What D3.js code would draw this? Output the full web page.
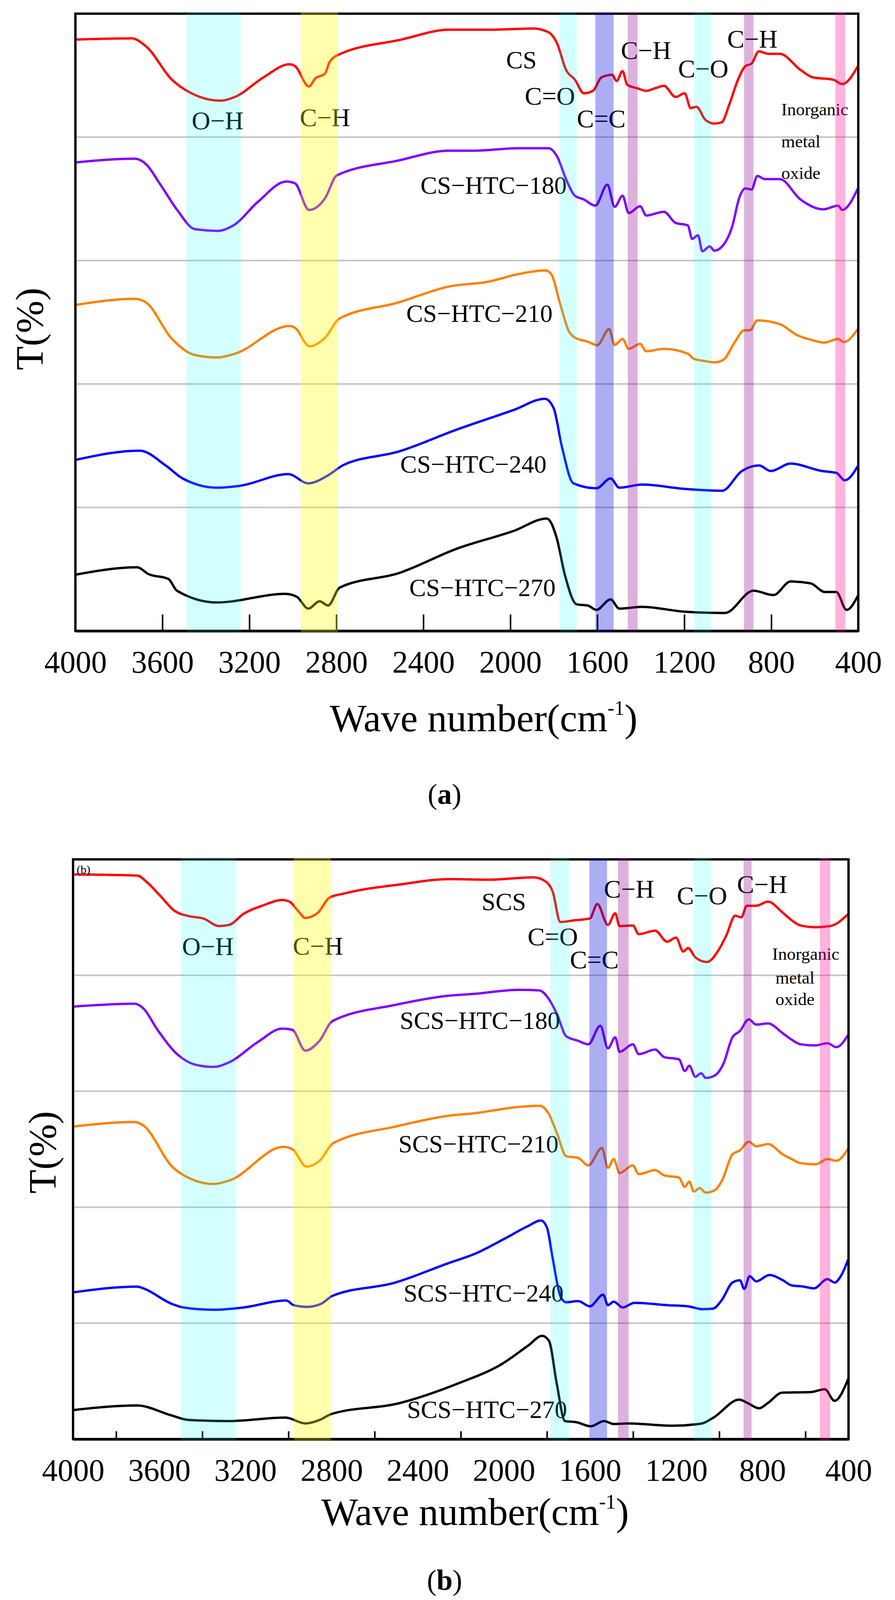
<!DOCTYPE html>
<html>
<head>
<meta charset="utf-8">
<script src="https://cdn.jsdelivr.net/npm/d3@7"></script>
<style>
  html, body { margin: 0; padding: 0; background: #fff; overflow: hidden; }
  svg { display: block; }
  svg text { font-family: "Liberation Serif", "Times New Roman", serif; fill: #000; }
</style>
</head>
<body>
<svg id="fig" width="2291" height="4160"></svg>
<script>
// ---- data: [wave number, T (offset, arbitrary %)] ----
var CS = [[4000,95.8],[3741,96.0],[3675,94.7],[3556,89.3],[3477,87.3],[3332,85.9],[3267,86.5],[3134,89.7],[3016,91.8],[2990,91.5],[2926,88.2],[2897,89.5],[2852,90.3],[2832,92.1],[2793,93.3],[2502,95.8],[2281,97.4],[2098,97.4],[1895,97.6],[1825,97.0],[1784,95.1],[1744,90.9],[1703,89.3],[1662,87.1],[1620,87.5],[1580,89.7],[1532,90.1],[1511,89.1],[1484,90.7],[1463,88.5],[1415,87.9],[1375,87.5],[1335,87.9],[1294,88.3],[1240,86.5],[1198,87.1],[1171,84.7],[1144,84.9],[1103,82.8],[1062,82.2],[1028,82.4],[994,85.2],[953,89.3],[919,91.5],[891,91.9],[857,93.9],[815,93.5],[761,93.5],[666,90.9],[611,89.7],[515,89.3],[474,88.6],[400,91.6]];
var CS_HTC_180 = [[4000,75.9],[3727,76.5],[3675,75.6],[3609,72.3],[3530,68.1],[3451,65.1],[3346,64.8],[3273,65.7],[3161,69.5],[3030,72.8],[2990,72.5],[2926,68.2],[2852,70.1],[2798,73.8],[2516,76.2],[2281,77.8],[2166,77.8],[1964,78.2],[1825,78.2],[1784,76.8],[1744,73.2],[1703,70.5],[1662,69.9],[1609,68.9],[1554,72.3],[1520,68.7],[1484,70.5],[1456,67.7],[1403,68.8],[1375,67.3],[1294,67.9],[1240,66.1],[1184,65.7],[1164,63.5],[1137,64.1],[1117,61.5],[1083,62.3],[1062,61.6],[1021,62.5],[980,65.5],[946,70.3],[919,71.7],[891,71.5],[864,73.7],[830,73.2],[761,73.2],[666,69.9],[561,68.3],[493,68.9],[474,68.2],[400,71.8]];
var CS_HTC_210 = [[4000,52.8],[3727,53.8],[3675,53.2],[3556,47.3],[3451,44.7],[3346,44.3],[3267,44.9],[3016,49.4],[2990,49.1],[2924,46.1],[2852,47.5],[2786,50.6],[2516,53.2],[2281,55.8],[2098,56.6],[1964,57.8],[1839,58.4],[1812,57.8],[1771,53.0],[1730,48.5],[1703,47.5],[1648,46.9],[1600,46.3],[1546,48.9],[1520,46.3],[1484,47.3],[1456,45.7],[1403,46.5],[1375,45.3],[1294,45.7],[1184,44.9],[1157,44.1],[1103,43.7],[1062,43.5],[1021,43.9],[966,46.9],[925,48.7],[898,48.7],[864,50.3],[761,49.7],[680,47.9],[611,47.1],[557,46.7],[493,47.3],[467,46.8],[400,49.0]];
var CS_HTC_240 = [[4000,27.7],[3704,29.2],[3585,26.8],[3507,24.7],[3349,23.2],[3244,23.5],[3021,25.4],[2929,23.9],[2838,25.2],[2771,26.8],[2509,29.1],[2247,32.6],[1984,35.8],[1841,37.6],[1801,36.1],[1762,29.7],[1710,23.9],[1604,23.1],[1539,24.7],[1499,23.2],[1394,23.7],[1198,23.0],[1027,22.7],[935,25.9],[856,26.8],[803,25.9],[711,27.1],[567,25.9],[501,25.6],[462,24.4],[400,26.8]];
var CS_HTC_270 = [[4000,9.1],[3716,10.3],[3664,9.2],[3572,8.4],[3533,6.5],[3349,4.6],[3034,6.0],[2981,5.5],[2929,3.6],[2877,4.8],[2838,4.1],[2785,7.0],[2509,9.4],[2247,13.3],[1984,16.2],[1832,18.2],[1788,15.2],[1748,8.9],[1695,4.3],[1643,4.1],[1604,3.4],[1539,5.1],[1499,3.6],[1394,3.9],[1198,3.1],[1013,2.9],[882,6.5],[790,5.8],[711,8.0],[619,7.7],[554,6.3],[501,6.3],[454,3.4],[400,5.8]];

var SCS = [[4000,97.4],[3701,97.2],[3661,96.2],[3595,93.7],[3528,91.1],[3461,90.2],[3395,89.8],[3322,88.5],[3275,88.7],[3209,90.6],[3115,92.1],[3029,93.0],[2995,92.7],[2955,91.1],[2922,89.9],[2863,90.8],[2810,93.4],[2743,94.1],[2477,95.7],[2253,96.6],[2069,96.5],[1862,96.9],[1807,96.2],[1773,94.4],[1738,89.2],[1670,89.5],[1601,89.8],[1566,92.3],[1517,88.7],[1483,90.7],[1463,88.5],[1401,88.6],[1374,87.1],[1298,87.7],[1242,85.8],[1201,86.5],[1167,84.1],[1145,84.7],[1111,83.1],[1057,82.3],[1001,84.5],[967,86.9],[926,90.3],[898,90.0],[872,92.0],[829,92.0],[774,92.7],[705,90.8],[664,89.5],[623,88.6],[554,88.3],[485,88.5],[400,90.6]];
var SCS_HTC_180 = [[4000,74.6],[3714,75.1],[3674,74.3],[3608,70.6],[3514,66.3],[3434,64.6],[3348,64.2],[3275,65.0],[3142,68.5],[3029,70.8],[2982,70.6],[2922,67.0],[2856,68.7],[2796,72.1],[2504,74.9],[2253,76.5],[2138,76.8],[1931,77.5],[1835,77.4],[1793,76.0],[1752,73.2],[1711,69.5],[1655,68.7],[1608,68.1],[1552,71.3],[1517,67.4],[1483,69.3],[1463,66.8],[1401,68.1],[1374,66.4],[1298,67.2],[1256,65.9],[1187,65.5],[1160,63.5],[1139,64.4],[1111,62.5],[1084,63.1],[1063,62.3],[1022,62.7],[980,64.8],[939,69.3],[904,70.4],[863,72.4],[829,71.5],[774,71.7],[705,70.0],[664,68.9],[623,68.1],[554,67.9],[498,68.3],[457,67.6],[400,69.8]];
var SCS_HTC_210 = [[4000,53.9],[3714,54.7],[3674,54.1],[3540,47.0],[3434,44.6],[3348,44.0],[3275,44.6],[3023,50.4],[2982,50.0],[2916,47.0],[2856,48.0],[2790,51.1],[2504,53.9],[2253,55.8],[2138,56.2],[1931,57.3],[1835,57.5],[1793,56.2],[1752,52.6],[1711,48.8],[1655,48.5],[1608,47.2],[1545,50.2],[1517,46.8],[1490,48.3],[1463,45.9],[1401,47.2],[1374,45.7],[1298,46.4],[1256,45.5],[1187,45.1],[1160,43.5],[1139,44.4],[1118,42.7],[1090,43.3],[1063,42.5],[1022,42.9],[987,44.6],[939,49.1],[904,49.8],[863,51.3],[829,50.5],[774,50.9],[705,49.1],[664,48.3],[623,47.6],[554,47.4],[498,48.3],[457,48.0],[400,50.2]];
var SCS_HTC_240 = [[4000,25.3],[3701,26.3],[3674,26.0],[3540,23.3],[3488,22.7],[3348,22.3],[3209,22.7],[3010,23.9],[2976,23.1],[2916,22.8],[2850,23.3],[2796,24.7],[2504,27.0],[2253,30.4],[2138,31.9],[2000,34.5],[1890,36.7],[1828,37.7],[1800,36.5],[1773,31.1],[1738,24.7],[1711,23.6],[1655,23.8],[1601,22.9],[1539,24.9],[1517,23.1],[1490,23.7],[1448,22.7],[1394,23.5],[1242,23.1],[1145,22.9],[1077,22.4],[1029,22.5],[988,24.0],[939,27.0],[904,27.4],[884,25.9],[859,28.1],[829,27.2],[767,28.3],[705,27.4],[664,26.5],[609,26.3],[560,26.0],[498,27.6],[464,27.0],[436,28.1],[400,31.1]];
var SCS_HTC_270 = [[4000,5.0],[3703,5.8],[3545,4.1],[3465,3.3],[3279,3.1],[3014,3.7],[2921,2.7],[2855,3.3],[2802,4.3],[2484,6.2],[2219,9.5],[2007,13.0],[1888,16.1],[1822,17.8],[1790,16.9],[1756,9.9],[1716,3.1],[1662,2.9],[1597,2.2],[1535,3.1],[1490,2.6],[1424,2.7],[1212,2.3],[1080,2.7],[1027,3.7],[907,6.8],[868,6.2],[815,5.3],[775,6.2],[708,8.0],[576,8.1],[510,8.6],[465,6.6],[400,10.5]];

// shaded absorption bands [from, to, kind]
var bandsA = [[3490,3240,'cyan'],[2964,2793,'yellow'],[1774,1694,'cyan'],[1609,1525,'blue'],[1460,1415,'purple'],[1155,1075,'cyan'],[925,882,'purple'],[505,460,'pink']];
var bandsB = [[3499,3242,'cyan'],[2975,2803,'yellow'],[1784,1697,'cyan'],[1603,1521,'blue'],[1470,1421,'purple'],[1118,1036,'cyan'],[887,850,'purple'],[533,485,'pink']];

// series names, in drawing order
var namesA = ['CS', 'CS\u2212HTC\u2212180', 'CS\u2212HTC\u2212210', 'CS\u2212HTC\u2212240', 'CS\u2212HTC\u2212270'];
var namesB = ['SCS', 'SCS\u2212HTC\u2212180', 'SCS\u2212HTC\u2212210', 'SCS\u2212HTC\u2212240', 'SCS\u2212HTC\u2212270'];
// label anchors [wave number, T]
var nameSpotsA = [[1949,92.5],[2077,72.2],[2142,51.4],[2170,27.0],[2128,7.0]];
var nameSpotsB = [[2000,92.7],[2111,72.2],[2118,50.9],[2094,25.2],[2078,5.1]];

// bond labels [text, wave number, T]
var bondsA = [['O\u2212H',3346,82.7],['C\u2212H',2852,83.2],['C=O',1818,86.7],['C=C',1582,83.0],['C\u2212H',1376,94.1],['C\u2212O',1113,91.1],['C\u2212H',887,95.9]];
var bondsB = [['O\u2212H',3374,85.0],['C\u2212H',2863,85.1],['C=O',1773,86.7],['C=C',1580,82.7],['C\u2212H',1419,94.9],['C\u2212O',1080,93.8],['C\u2212H',801,95.7]];
var oxideA = [['Inorganic',754,84.5],['metal',754,79.3],['oxide',754,74.2]];
var oxideB = [['Inorganic',754,83.7],['metal',739,79.6],['oxide',739,75.9]];

var tickLabels = [4000,3600,3200,2800,2400,2000,1600,1200,800,400];
var ticksA = [3600,3200,2800,2400,2000,1600,1200,800];
var ticksB = [3800,3400,3000,2600,2200,1800,1400,1000,600];
var gridT = [20,40,60,80];

var seriesColors = ['#ff0000', '#7f00ff', '#ff8000', '#0000ff', '#000000'];
var bandStyle = {
  cyan:   {fill: '#00ffff', op: 0.17},
  yellow: {fill: '#ffff00', op: 0.32},
  blue:   {fill: '#0000dd', op: 0.32},
  purple: {fill: '#8b008b', op: 0.30},
  pink:   {fill: '#ff1493', op: 0.32}
};

var svg = d3.select('#fig');

function drawPanel(o) {
  var x = d3.scaleLinear().domain([4000, 400]).range([o.left, o.right]);
  var y = d3.scaleLinear().domain([0, 100]).range([o.bottom, o.top]);
  var g = svg.append('g');

  // gray separators
  g.selectAll('line.grid').data(gridT).enter().append('line')
    .attr('x1', o.left).attr('x2', o.right)
    .attr('y1', function(d){ return y(d); }).attr('y2', function(d){ return y(d); })
    .attr('stroke', '#c4c4c4').attr('stroke-width', 4);

  var line = d3.line()
    .x(function(d){ return x(d[0]); })
    .y(function(d){ return y(d[1]); })
    .curve(d3.curveMonotoneX);

  g.selectAll('path.spec').data(o.series).enter().append('path')
    .attr('d', function(d){ return line(d); })
    .attr('fill', 'none')
    .attr('stroke', function(d, i){ return seriesColors[i]; })
    .attr('stroke-width', 6)
    .attr('stroke-linejoin', 'round');

  g.selectAll('text.name').data(o.names).enter().append('text')
    .attr('x', function(d, i){ return x(o.nameSpots[i][0]); })
    .attr('y', function(d, i){ return y(o.nameSpots[i][1]); })
    .attr('text-anchor', 'middle').attr('dominant-baseline', 'central')
    .attr('font-size', 64)
    .text(function(d){ return d; });

  g.selectAll('text.bond').data(o.bonds).enter().append('text')
    .attr('x', function(d){ return x(d[1]); })
    .attr('y', function(d){ return y(d[2]); })
    .attr('text-anchor', 'middle').attr('dominant-baseline', 'central')
    .attr('font-size', 66)
    .text(function(d){ return d[0]; });

  g.selectAll('text.oxide').data(o.oxide).enter().append('text')
    .attr('x', function(d){ return x(d[1]); })
    .attr('y', function(d){ return y(d[2]); })
    .attr('text-anchor', 'start').attr('dominant-baseline', 'central')
    .attr('font-size', 45)
    .text(function(d){ return d[0]; });

  if (o.tag) {
    g.append('text').attr('x', x(3983)).attr('y', y(98.3))
      .attr('dominant-baseline', 'central').attr('font-size', 30).text(o.tag);
  }

  // frame
  g.append('rect')
    .attr('x', o.left).attr('y', o.top)
    .attr('width', o.right - o.left).attr('height', o.bottom - o.top)
    .attr('fill', 'none').attr('stroke', '#000').attr('stroke-width', 6);

  // inward ticks
  var tickAxis = d3.axisBottom(x).tickValues(o.ticks).tickSizeInner(-o.tickLen).tickSizeOuter(0).tickFormat('');
  var ta = g.append('g').attr('transform', 'translate(0,' + o.bottom + ')').call(tickAxis);
  ta.select('.domain').attr('stroke-width', 7);
  ta.selectAll('.tick line').attr('stroke-width', 4);

  // tick labels
  var labAxis = d3.axisBottom(x).tickValues(tickLabels).tickSize(0).tickPadding(50).tickFormat(d3.format('d'));
  var la = g.append('g').attr('transform', 'translate(0,' + o.bottom + ')').call(labAxis);
  la.select('.domain').remove();
  la.selectAll('text')
    .attr('font-size', 80)
    .attr('font-family', '"Liberation Serif", "Times New Roman", serif')
    .attr('fill', '#000');

  // absorption bands on top
  g.selectAll('rect.band').data(o.bands).enter().append('rect')
    .attr('x', function(d){ return x(d[0]); })
    .attr('width', function(d){ return x(d[1]) - x(d[0]); })
    .attr('y', o.top - 3).attr('height', o.bottom - o.top + 6)
    .attr('fill', function(d){ return bandStyle[d[2]].fill; })
    .attr('fill-opacity', function(d){ return bandStyle[d[2]].op; });

  // axis titles
  var xt = g.append('text').attr('x', o.titleX).attr('y', o.titleY)
    .attr('text-anchor', 'middle').attr('font-size', 100);
  xt.append('tspan').text('Wave number(cm');
  xt.append('tspan').attr('dy', -42).attr('font-size', 52).text('-1');
  xt.append('tspan').attr('dy', 42).text(')');

  g.append('text')
    .attr('transform', 'translate(' + o.yLabX + ',' + o.yLabY + ') rotate(-90)')
    .attr('text-anchor', 'middle').attr('dominant-baseline', 'central')
    .attr('font-size', 100).text('T(%)');

  var cap = g.append('text').attr('x', 1138).attr('y', o.capY)
    .attr('text-anchor', 'middle').attr('font-size', 74);
  cap.append('tspan').text('(');
  cap.append('tspan').attr('font-weight', 'bold').text(o.cap);
  cap.append('tspan').text(')');
}

drawPanel({
  left: 193, right: 2197, top: 35, bottom: 1615,
  series: [CS, CS_HTC_180, CS_HTC_210, CS_HTC_240, CS_HTC_270],
  names: namesA, nameSpots: nameSpotsA, bonds: bondsA, oxide: oxideA,
  bands: bandsA, ticks: ticksA, tickLen: 42,
  titleX: 1238, titleY: 1872, yLabX: 75, yLabY: 842,
  cap: 'a', capY: 2058
});

drawPanel({
  left: 187, right: 2172, top: 2200, bottom: 3684,
  series: [SCS, SCS_HTC_180, SCS_HTC_210, SCS_HTC_240, SCS_HTC_270],
  names: namesB, nameSpots: nameSpotsB, bonds: bondsB, oxide: oxideB,
  bands: bandsB, ticks: ticksB, tickLen: 20, tag: '(b)',
  titleX: 1216, titleY: 3904, yLabX: 108, yLabY: 2950,
  cap: 'b', capY: 4070
});
</script>
</body>
</html>
